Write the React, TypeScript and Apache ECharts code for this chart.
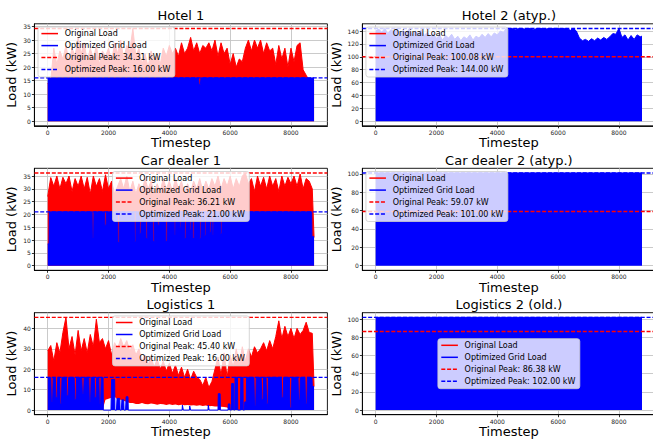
import React, { useEffect, useRef } from "react";
import * as echarts from "echarts";

const FONT = "DejaVu Sans";
const T_END = 8759;
const SAMPLE_STEP = 100;
const X_MIN = -438;
const X_MAX = 9198;
const X_TICKS = [0, 2000, 4000, 6000, 8000];

const TITLES = ["Hotel 1", "Hotel 2 (atyp.)", "Car dealer 1", "Car dealer 2 (atyp.)", "Logistics 1", "Logistics 2 (old.)"];
const ORIGINAL_PEAKS = [34.31, 100.08, 36.21, 59.07, 45.4, 86.38];
const OPTIMIZED_PEAKS = [16.0, 144.0, 21.0, 101.0, 16.0, 102.0];
const Y_TICKS = [
  [0, 5, 10, 15, 20, 25, 30, 35],
  [0, 20, 40, 60, 80, 100, 120, 140],
  [0, 5, 10, 15, 20, 25, 30, 35],
  [0, 20, 40, 60, 80, 100],
  [0, 10, 20, 30, 40],
  [0, 20, 40, 60, 80, 100],
];
const LEGEND_LOCS = ["upper left", "upper left", "upper center", "upper left", "upper center", "center"];

// Envelopes sampled every 100 timesteps (last sample at 8759)
const HOTEL1_ORIGINAL_TOP = [
  14, 15, 27, 21, 26, 23, 28, 22, 27, 24,
  31, 25, 29, 22, 27, 23, 28, 21, 26, 24,
  27, 22, 29, 25, 30, 23, 28, 26, 34.31, 24,
  27, 21, 25, 20, 26, 22, 25, 21, 27, 24,
  28, 25, 27, 24, 29, 25, 27, 31, 26, 29,
  25, 28, 27, 29, 26, 30, 24, 29, 25, 27,
  21, 25, 20, 23, 22, 27, 30, 26, 30, 27,
  30, 25, 29, 26, 27, 21, 28, 23, 27, 20,
  27, 22, 28, 29, 19, 17, 15, 14,
  14,
];
const HOTEL2_OPTIMIZED_TOP = [
  140, 143, 138, 144, 136, 142, 139, 144, 135, 141,
  137, 143, 134, 140, 136, 142, 133, 138, 130, 136,
  128, 134, 126, 133, 129, 135, 127, 132, 125, 131,
  128, 134, 126, 132, 129, 135, 130, 136, 131, 137,
  134, 140, 138, 144, 144, 144, 142, 144, 144, 143,
  144, 144, 142, 144, 144, 144, 143, 144, 144, 144,
  144, 143, 144, 144, 141, 144, 140, 129, 125, 127,
  124, 128, 125, 129, 126, 130, 127, 131, 136, 135,
  144, 130, 134, 126, 133, 127, 134, 131,
  132,
];
const CAR1_ORIGINAL_TOP = [
  27, 34.4, 31, 35, 30, 34.5, 32, 35, 29, 34,
  31, 35, 30, 34.5, 28, 35, 31, 34, 29, 35.5,
  30, 33, 28, 31, 34, 30, 35, 29, 33, 28,
  32, 29, 34, 30, 33, 28, 32, 29, 34, 30,
  33, 29, 34, 30, 33, 28, 32, 29, 33, 30,
  34, 29, 33, 30, 34, 31, 35, 30, 34, 31,
  35, 30, 34, 31, 35, 36.21, 32, 34, 29, 35,
  31, 34.5, 30, 35, 31, 34, 29, 35, 31, 34.5,
  32, 35, 31, 35.8, 30, 34, 33, 30,
  11,
];
const LOG1_ORIGINAL_TOP = [
  29, 31.6, 24, 33, 28, 38, 45.4, 30, 36, 27,
  39, 29, 35, 28, 37, 31, 44.5, 33, 35, 30,
  34, 27, 33, 30, 35, 31, 34, 29, 32, 27,
  30, 24, 27, 22, 26, 21, 25, 20, 24, 19,
  23, 18, 22, 17, 21, 16, 20, 15, 19, 16,
  15, 12, 16, 11, 14, 20, 26, 17, 28, 16,
  27, 21, 30, 22, 31, 24, 30, 26, 31, 28,
  30, 33, 29, 34, 30, 36, 43.7, 35, 41, 36,
  40, 35, 40, 37, 39, 43, 38, 37.6,
  11.5,
];
const LOG1_ORIGINAL_BOTTOM = [
  0, 0, 0, 0, 0, 0, 0, 0, 0, 0,
  0, 0, 0, 0, 0, 0, 0, 0, 0, 5,
  5.5, 6, 6.5, 5, 5, 4.5, 4, 3.5, 3.5, 3,
  3, 3.5, 3, 2.8, 3.2, 3, 2.6, 3, 2.8, 2.5,
  2.8, 2.5, 2.7, 2.4, 2.6, 2.3, 2.5, 2.2, 2.4, 2.1,
  2.3, 2, 2.2, 1.9, 2, 1.8, 1.7, 1.6, 1.5, 1.2,
  0, 0, 0, 0, 0, 0, 0, 0, 0, 0,
  0, 0, 0, 0, 0, 0, 0, 0, 0, 0,
  0, 0, 0, 0, 0, 0, 0, 0,
  0,
];

// Optimized grid load as plateaus [start, end, level]
const HOTEL1_OPT_SEGMENTS = [[0, 4960, 16], [4980, 5020, 13.5], [5040, T_END, 16]];
const CAR1_OPT_SEGMENTS = [[0, 45, 8.5], [55, 8680, 21], [8690, T_END, 11.3]];
const CAR1_DIPS = [
  [1490, 11], [1900, 15.8], [2330, 9], [2875, 9.4], [3045, 12.6], [3255, 10.6], [3485, 9.4],
  [3645, 15.8], [3905, 9.4], [4185, 12], [4355, 15], [4525, 10.6], [4685, 14], [4795, 10.6],
  [5015, 10.6], [5180, 11.8], [5345, 13], [5435, 12], [5705, 12.5],
];
const CAR2_OPT_SEGMENTS = [[0, T_END, 101]];
const LOG1_OPT_SEGMENTS = [
  [0, 100, 16], [120, 160, 4], [180, 250, 16], [270, 310, 6], [330, 390, 16], [410, 450, 3],
  [470, 610, 16], [630, 670, 7], [690, 870, 16], [890, 930, 5], [950, 1120, 16], [1140, 1180, 8],
  [1200, 1350, 16], [1370, 1410, 4], [1430, 1530, 16], [1550, 1590, 6], [1610, 1680, 16],
  [1700, 1740, 3], [1760, 1820, 16], [1830, 2080, 0], [2100, 2200, 15], [2210, 2260, 0],
  [2280, 2370, 5.7], [2380, 2420, 0], [2440, 2500, 5], [2510, 2560, 0], [2580, 2640, 6.5],
  [2650, 4420, 0], [4430, 4450, 2.4], [4460, 4660, 0], [4670, 4690, 2], [4700, 5270, 0],
  [5280, 5300, 2.4], [5310, 5600, 0], [5610, 5670, 8], [5680, 5930, 0], [5940, 5990, 3],
  [6000, 6040, 0], [6050, 6110, 13], [6120, 6150, 0], [6160, 6240, 16], [6250, 6340, 0],
  [6350, 6420, 16], [6430, 6470, 0], [6480, 6530, 4], [6540, 6780, 16], [6800, 6840, 2],
  [6860, 7020, 16], [7040, 7080, 5], [7100, 7180, 16], [7200, 7240, 3], [7260, 7680, 16],
  [7700, 7740, 6], [7760, 7950, 16], [7970, 8010, 1], [8030, 8230, 16], [8250, 8290, 5],
  [8310, 8460, 16], [8480, 8520, 3], [8540, 8690, 16], [8700, T_END, 11.5],
];
const LOG2_OPT_SEGMENTS = [[0, T_END, 102]];

const LEGEND_LABELS = ["Original Load", "Optimized Grid Load"];

function sampled(values: number[]): number[][] {
  return values.map((v, i) => [Math.min(i * SAMPLE_STEP, T_END), v]);
}
function fromSegments(segs: number[][]): number[][] {
  const out: number[][] = [];
  segs.forEach(([a, b, v]) => {
    out.push([a, v]);
    out.push([b, v]);
  });
  return out;
}
function withDips(segs: number[][], dips: number[][], cap: number): number[][] {
  const all = fromSegments(segs);
  dips.forEach(([t, v]) => {
    all.push([t - 30, cap], [t - 20, v], [t + 20, v], [t + 30, cap]);
  });
  all.sort((a, b) => a[0] - b[0]);
  return all;
}

const COL_LEFT = [34.4, 362.35];
const ROW_TOP = [23.8, 168.3, 312.7];
const GRID_W = 293;
const GRID_H = 102;
const RED = "#ff0000";
const BLUE = "#0000ff";
const DASH = [4, 1.8];

function measure(text: string, size: number): number {
  const c = document.createElement("canvas").getContext("2d");
  if (!c) return text.length * size * 0.6;
  c.font = `${size}px "${FONT}"`;
  return c.measureText(text).width;
}

export default function App() {
  const ref = useRef<HTMLDivElement>(null);
  useEffect(() => {
    if (!ref.current) return;
    const chart = echarts.init(ref.current, undefined, { renderer: "svg" });

    const grids: any[] = [];
    const xAxes: any[] = [];
    const yAxes: any[] = [];
    const series: any[] = [];
    const graphics: any[] = [];

    const optimizedData = [
      fromSegments(HOTEL1_OPT_SEGMENTS),
      sampled(HOTEL2_OPTIMIZED_TOP),
      withDips(CAR1_OPT_SEGMENTS, CAR1_DIPS, 21),
      fromSegments(CAR2_OPT_SEGMENTS),
      fromSegments(LOG1_OPT_SEGMENTS),
      fromSegments(LOG2_OPT_SEGMENTS),
    ];
    const originalTop: (number[] | null)[] = [HOTEL1_ORIGINAL_TOP, null, CAR1_ORIGINAL_TOP, null, LOG1_ORIGINAL_TOP, null];
    const originalBottom: (number[] | null)[] = [null, null, null, null, LOG1_ORIGINAL_BOTTOM, null];

    for (let i = 0; i < 6; i++) {
      const row = Math.floor(i / 2);
      const col = i % 2;
      const left = COL_LEFT[col];
      const top = ROW_TOP[row];
      const peakMax = Math.max(ORIGINAL_PEAKS[i], OPTIMIZED_PEAKS[i]);
      const yMin = -0.05 * peakMax;
      const yMax = 1.05 * peakMax;
      const yTicks = Y_TICKS[i];
      const threeDigit = yTicks[yTicks.length - 1] >= 100;

      grids.push({
        left, top, width: GRID_W, height: GRID_H,
        show: true, borderColor: "#000", borderWidth: 0.9, backgroundColor: "transparent",
        containLabel: false, outerBoundsMode: "none",
      });
      xAxes.push({
        gridIndex: i, type: "value", min: X_MIN, max: X_MAX, splitNumber: 5,
        axisLine: { show: true, onZero: false, lineStyle: { color: "#000", width: 0.9 } },
        axisTick: { show: true, customValues: X_TICKS, length: 2.5, lineStyle: { color: "#000", width: 0.8 } },
        axisLabel: {
          show: true, customValues: X_TICKS, fontSize: 6, color: "#222", margin: 3.5, fontFamily: FONT,
          formatter: (v: number) => String(v),
        },
        splitLine: { show: true, lineStyle: { color: "#c4c4c4", width: 0.9 } },
        name: "Timestep", nameLocation: "middle", nameGap: 10,
        nameTextStyle: { fontSize: 13, color: "#000", fontFamily: FONT },
      });
      yAxes.push({
        gridIndex: i, type: "value", min: yMin, max: yMax, splitNumber: i === 4 || i === 5 ? 5 : i === 3 ? 6 : 8,
        axisLine: { show: true, onZero: false, lineStyle: { color: "#000", width: 0.9 } },
        axisTick: { show: true, customValues: yTicks, length: 2.5, lineStyle: { color: "#000", width: 0.8 } },
        axisLabel: {
          show: true, customValues: yTicks, fontSize: 6, color: "#222", margin: 3.5, fontFamily: FONT,
          formatter: (v: number) => String(v),
        },
        splitLine: { show: true, lineStyle: { color: "#c4c4c4", width: 0.9 } },
        name: "Load (kW)", nameLocation: "middle", nameRotate: 90, nameGap: threeDigit ? 19.5 : 16,
        nameTextStyle: { fontSize: 13, color: "#000", fontFamily: FONT },
      });

      const common = { xAxisIndex: i, yAxisIndex: i, symbol: "none", showSymbol: false, silent: true, animation: false, clip: true };

      const topVals = originalTop[i];
      const botVals = originalBottom[i];
      if (topVals) {
        series.push({
          ...common, type: "line", data: sampled(topVals), z: 2,
          lineStyle: { color: RED, width: 1 },
          areaStyle: { color: RED, opacity: 1 },
        });
      }
      if (botVals) {
        // region below the original load's lower envelope stays empty (white)
        series.push({
          ...common, type: "line", data: sampled(botVals), z: 3,
          lineStyle: { width: 0, opacity: 0 },
          areaStyle: { color: "#ffffff", opacity: 1 },
        });
      }

      series.push({
        ...common, type: "line", data: optimizedData[i], z: 4,
        lineStyle: { color: BLUE, width: 1 },
        areaStyle: { color: BLUE, opacity: 1 },
      });

      // Peak lines (dashed) across the whole axis range
      series.push({
        ...common, type: "line", data: [[X_MIN, ORIGINAL_PEAKS[i]], [X_MAX, ORIGINAL_PEAKS[i]]], z: 5,
        lineStyle: { color: RED, width: 1.4, type: DASH, opacity: 1 },
      });
      series.push({
        ...common, type: "line", data: [[X_MIN, OPTIMIZED_PEAKS[i]], [X_MAX, OPTIMIZED_PEAKS[i]]], z: 6,
        lineStyle: { color: BLUE, width: 1.4, type: DASH, opacity: 1 },
      });

      // Title
      graphics.push({
        type: "text", x: left + GRID_W / 2, y: top - 8, z: 100,
        style: { text: TITLES[i], fontSize: 13, fontFamily: FONT, fill: "#000", align: "center", verticalAlign: "middle" },
      });

      // Legend
      const labels = [
        LEGEND_LABELS[0],
        LEGEND_LABELS[1],
        `Original Peak: ${ORIGINAL_PEAKS[i].toFixed(2)} kW`,
        `Optimized Peak: ${OPTIMIZED_PEAKS[i].toFixed(2)} kW`,
      ];
      const textW = Math.max(...labels.map((l) => measure(l, 8)));
      const boxW = 26.7 + textW + 4.4;
      const boxH = 50;
      let bx = left + 3.6;
      let by = top + 3.2;
      const loc = LEGEND_LOCS[i];
      if (loc === "upper center") bx = left + GRID_W / 2 - boxW / 2;
      if (loc === "center") {
        bx = left + GRID_W / 2 - boxW / 2;
        by = top + GRID_H / 2 - boxH / 2;
      }
      graphics.push({
        type: "rect", x: bx, y: by, z: 100,
        shape: { x: 0, y: 0, width: boxW, height: boxH, r: 2.5 },
        style: { fill: "rgba(255,255,255,0.8)", stroke: "#cccccc", lineWidth: 0.8 },
      });
      const colors = [RED, BLUE, RED, BLUE];
      labels.forEach((lab, k) => {
        const cy = by + 6.6 + 12 * k;
        const lineStyle: any = { stroke: colors[k], lineWidth: 1.5, fill: null };
        if (k >= 2) lineStyle.lineDash = DASH;
        graphics.push({
          type: "line", z: 101,
          shape: { x1: bx + 3.4, y1: cy, x2: bx + 20, y2: cy },
          style: lineStyle,
        });
        graphics.push({
          type: "text", x: bx + 26.7, y: cy, z: 101,
          style: { text: lab, fontSize: 8, fontFamily: FONT, fill: "#000", align: "left", verticalAlign: "middle" },
        });
      });
    }

    chart.setOption({
      animation: false,
      backgroundColor: "#ffffff",
      textStyle: { fontFamily: FONT },
      grid: grids,
      xAxis: xAxes,
      yAxis: yAxes,
      series,
      graphic: graphics,
    });
    return () => chart.dispose();
  }, []);
  return <div ref={ref} style={{ position: "absolute", left: 0, top: 0, width: 653, height: 443 }} />;
}
